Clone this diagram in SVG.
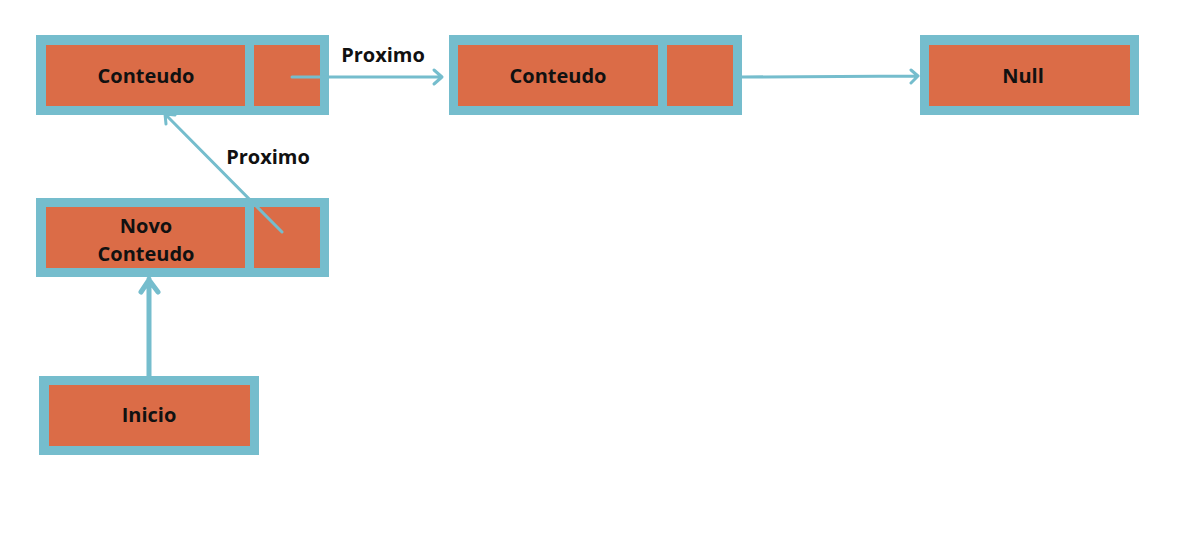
<svg xmlns="http://www.w3.org/2000/svg" width="1177" height="537" viewBox="0 0 1177 537">
<style>
.b{fill:#75bdcd}
.o{fill:#db6c47}
.t{font-family:"Open Sans","Noto Sans",sans-serif;font-weight:bold;font-size:20px;fill:#111;text-anchor:middle;dominant-baseline:central}
.c{stroke:#75bdcd;fill:none;stroke-linecap:round;stroke-linejoin:round}
</style>
<rect width="1177" height="537" fill="#fff"/>
<g id="node1">
<rect class="b" x="36" y="35" width="218" height="80"/>
<rect class="o" x="46" y="45" width="199" height="61"/>
<rect class="b" x="254" y="35" width="75" height="80"/>
<rect class="o" x="254" y="45" width="66" height="61"/>
<text class="t" x="146" y="75">Conteudo</text>
</g>
<g id="node2">
<rect class="b" x="449" y="35" width="218" height="80"/>
<rect class="o" x="458" y="45" width="200" height="61"/>
<rect class="b" x="667" y="35" width="75" height="80"/>
<rect class="o" x="667" y="45" width="66" height="61"/>
<text class="t" x="558" y="75">Conteudo</text>
</g>
<g id="null">
<rect class="b" x="920" y="35" width="219" height="80"/>
<rect class="o" x="929" y="45" width="201" height="61"/>
<text class="t" x="1023" y="75">Null</text>
</g>
<g id="novo">
<rect class="b" x="36" y="198" width="218" height="79"/>
<rect class="o" x="46" y="207" width="199" height="61"/>
<rect class="b" x="254" y="198" width="75" height="79"/>
<rect class="o" x="254" y="207" width="66" height="61"/>
<text class="t" x="146" y="225">Novo</text>
<text class="t" x="146" y="253">Conteudo</text>
</g>
<g id="inicio">
<rect class="b" x="39" y="376" width="220" height="79"/>
<rect class="o" x="49" y="385" width="201" height="61"/>
<text class="t" x="149" y="414">Inicio</text>
</g>
<g id="connectors">
<path class="c" stroke-width="3" d="M292,77 H442 M434,70 L442,77 L434,84"/>
<path class="c" stroke-width="3" d="M742,77 L918,76 M911,70 L918,76 L911,83"/>
<path class="c" stroke-width="3" d="M282,232 L165,114 M165,114 L166,124 M165,114 L175,115"/>
<path class="c" stroke-width="5" d="M149,376 V279 M141,292 L149,280 L158,292"/>
<text class="t" x="383" y="54">Proximo</text>
<text class="t" x="268" y="156">Proximo</text>
</g>
</svg>
